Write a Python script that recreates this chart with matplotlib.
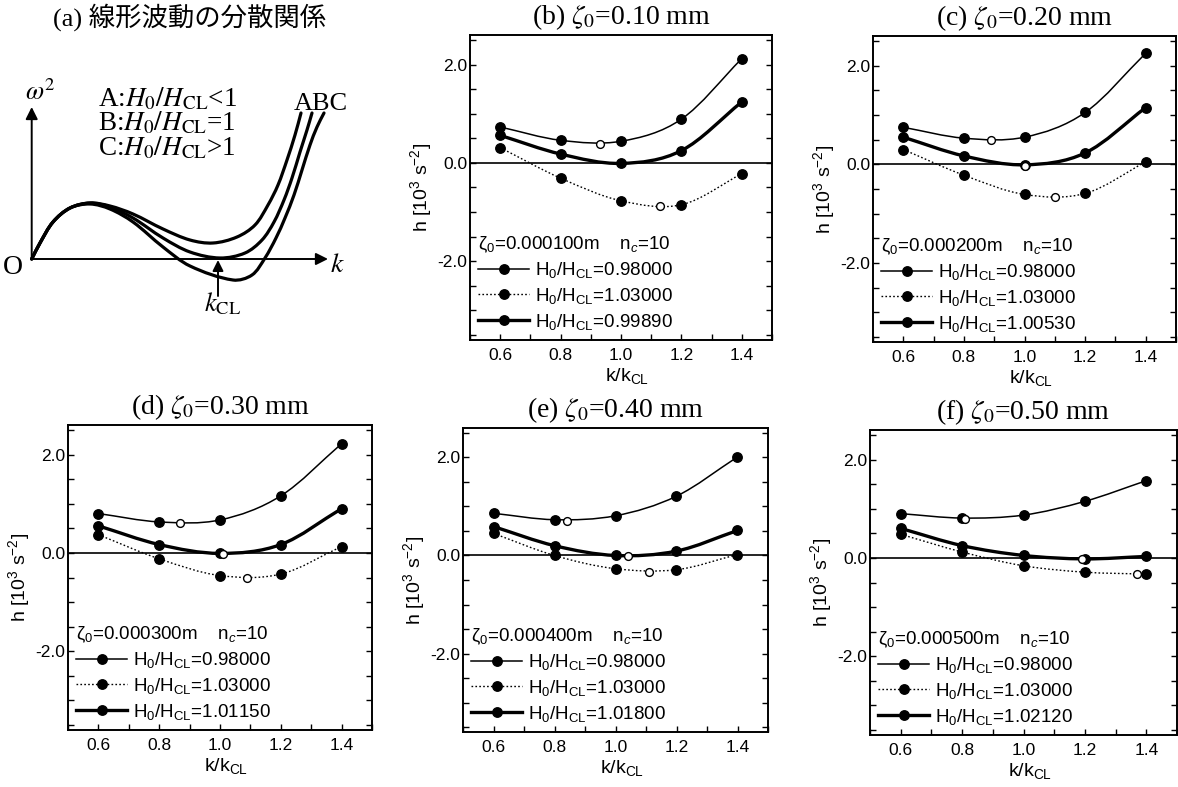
import numpy as np
import matplotlib
matplotlib.use("Agg")
import matplotlib.pyplot as plt
from matplotlib.path import Path
from matplotlib.patches import PathPatch
from matplotlib.lines import Line2D
from matplotlib.ticker import MultipleLocator, FormatStrFormatter

plt.rcParams['font.family'] = ['Liberation Sans', 'DejaVu Sans']
plt.rcParams['mathtext.fontset'] = 'custom'
plt.rcParams['mathtext.rm'] = 'Liberation Sans'
plt.rcParams['mathtext.it'] = 'Liberation Sans:italic'
plt.rcParams['mathtext.bf'] = 'Liberation Sans:bold'

# ---------------- data ----------------
k_ratio = [0.6, 0.8, 1.0, 1.2, 1.4]

panel_labels = ["(b)", "(c)", "(d)", "(e)", "(f)"]
zeta_mm = ["0.10", "0.20", "0.30", "0.40", "0.50"]
zeta_m = ["0.000100", "0.000200", "0.000300", "0.000400", "0.000500"]
n_c = 10
H_low = "0.98000"
H_high = "1.03000"
H_crit = ["0.99890", "1.00530", "1.01150", "1.01800", "1.02120"]

# h values [10^3 s^-2] at k/kCL = 0.6 ... 1.4
h_low_b = [0.73, 0.46, 0.44, 0.89, 2.12]
h_high_b = [0.31, -0.31, -0.77, -0.85, -0.22]
h_crit_b = [0.56, 0.18, -0.01, 0.25, 1.24]

h_low_c = [0.75, 0.53, 0.55, 1.05, 2.25]
h_high_c = [0.30, -0.22, -0.61, -0.59, 0.05]
h_crit_c = [0.55, 0.17, -0.01, 0.23, 1.15]

h_low_d = [0.80, 0.63, 0.67, 1.16, 2.22]
h_high_d = [0.37, -0.12, -0.46, -0.43, 0.13]
h_crit_d = [0.55, 0.17, -0.01, 0.17, 0.90]

h_low_e = [0.86, 0.73, 0.81, 1.21, 2.01]
h_high_e = [0.45, 0.00, -0.27, -0.29, 0.02]
h_crit_e = [0.59, 0.20, 0.00, 0.09, 0.51]

h_low_f = [0.90, 0.81, 0.87, 1.15, 1.57]
h_high_f = [0.48, 0.12, -0.16, -0.29, -0.33]
h_crit_f = [0.60, 0.25, 0.05, -0.02, 0.03]

# minima (open circles): k/kCL and h
min_k_b = [0.93, 1.13]
min_h_b = [0.39, -0.88]
min_k_c = [0.89, 1.00, 1.10]
min_h_c = [0.49, -0.03, -0.66]
min_k_d = [0.87, 1.01, 1.09]
min_h_d = [0.61, -0.03, -0.50]
min_k_e = [0.84, 1.04, 1.11]
min_h_e = [0.71, -0.01, -0.34]
min_k_f = [0.81, 1.19, 1.37]
min_h_f = [0.80, -0.02, -0.32]

h_low_all = [h_low_b, h_low_c, h_low_d, h_low_e, h_low_f]
h_high_all = [h_high_b, h_high_c, h_high_d, h_high_e, h_high_f]
h_crit_all = [h_crit_b, h_crit_c, h_crit_d, h_crit_e, h_crit_f]
min_k_all = [min_k_b, min_k_c, min_k_d, min_k_e, min_k_f]
min_h_all = [min_h_b, min_h_c, min_h_d, min_h_e, min_h_f]

# panel (a) schematic curves (pixel units)
curveA_x = [31.7, 40, 53, 70, 90, 110, 133, 163, 190, 213, 237, 255, 268, 278, 287, 295, 301]
curveA_y = [259, 243, 222, 208, 203, 206, 214, 229, 240, 243, 237, 225, 205, 185, 160, 135, 113]
curveB_x = [31.7, 40, 53, 70, 90, 110, 133, 163, 190, 220, 245, 262, 274, 284, 292, 300, 307, 312]
curveB_y = [259, 243, 222, 208, 203, 207, 218, 238, 252, 258, 253, 240, 222, 200, 178, 152, 130, 113]
curveC_x = [31.7, 40, 53, 70, 90, 110, 133, 163, 190, 233, 252, 265, 276, 285, 294, 302, 310, 317, 324]
curveC_y = [259, 243, 222, 208, 204, 209, 222, 247, 266, 280, 275, 258, 238, 218, 195, 170, 145, 127, 113]


def smooth_path(xs, ys, chord=False):
    p = np.column_stack([xs, ys]).astype(float)
    if chord:
        d = np.hypot(*np.diff(p, axis=0).T)
        t = np.concatenate([[0], np.cumsum(d)])
    else:
        t = p[:, 0].copy()
    n = len(p)
    m = np.zeros_like(p)
    m[1:-1] = (p[2:] - p[:-2]) / (t[2:] - t[:-2])[:, None]
    m[0] = (p[1] - p[0]) / (t[1] - t[0])
    m[-1] = (p[-1] - p[-2]) / (t[-1] - t[-2])
    verts = [p[0]]
    codes = [Path.MOVETO]
    for i in range(n - 1):
        h = t[i + 1] - t[i]
        verts += [p[i] + m[i] * h / 3, p[i + 1] - m[i + 1] * h / 3, p[i + 1]]
        codes += [Path.CURVE4] * 3
    return Path(verts, codes)


W, H = 1178, 787
fig = plt.figure(figsize=(W / 100, H / 100), dpi=100)


def add_ax(l, r, t, b):
    return fig.add_axes([l / W, 1 - b / H, (r - l) / W, (b - t) / H])


# ---------------- panel (a) ----------------
axa = add_ax(0, 380, 0, 330)
axa.set_xlim(0, 380)
axa.set_ylim(330, 0)
axa.axis('off')
serif_cjk = ['Liberation Serif', 'Noto Sans CJK JP']
axa.text(190, 17, "(a) 線形波動の分散関係", ha='center', va='center',
         fontsize=19, family=serif_cjk)
for cx, cy in [(curveA_x, curveA_y), (curveB_x, curveB_y), (curveC_x, curveC_y)]:
    axa.add_patch(PathPatch(smooth_path(cx, cy, chord=True), fill=False,
                            lw=2.3, color='k', capstyle='round'))
axa.annotate('', xy=(31.7, 107), xytext=(31.7, 259),
             arrowprops=dict(arrowstyle='-|>', lw=1.4, color='k', mutation_scale=18,
                             shrinkA=0, shrinkB=0))
axa.annotate('', xy=(328, 259), xytext=(31.7, 259),
             arrowprops=dict(arrowstyle='-|>', lw=1.4, color='k', mutation_scale=18,
                             shrinkA=0, shrinkB=0))
axa.annotate('', xy=(218, 260), xytext=(218, 296),
             arrowprops=dict(arrowstyle='-|>', lw=1.4, color='k', mutation_scale=16,
                             shrinkA=0, shrinkB=0))
axa.text(13, 268, "O", ha='center', va='center', fontsize=20, family='Liberation Serif')
axa.text(337, 265, "$k$", ha='center', va='center', fontsize=20, math_fontfamily='stix')
axa.text(223, 304, r"$k_{\mathrm{CL}}$", ha='center', va='center', fontsize=19,
         math_fontfamily='stix')
axa.text(25, 100, r"$\omega^2$", ha='left', va='baseline', fontsize=19, math_fontfamily='stix')
for i, s in enumerate([r"A:$H_0/H_{\mathrm{CL}}$<1", r"B:$H_0/H_{\mathrm{CL}}$=1",
                       r"C:$H_0/H_{\mathrm{CL}}$>1"]):
    axa.text(98, 106 + i * 24.5, s, ha='left', va='baseline', fontsize=19.5,
             family='Liberation Serif', math_fontfamily='stix')
axa.text(294, 110, "ABC", ha='left', va='baseline', fontsize=19, family='Liberation Serif')

# ---------------- panels (b)-(f) ----------------
boxes = [(470, 772, 35, 340), (873, 1176, 36, 342), (68, 372, 425, 730),
         (463, 768, 428, 732), (870, 1177, 430, 735)]

LW_THIN, LW_THICK, LW_DOT = 1.1, 2.4, 1.0
MS = 6.8
dot_style = (0, (1.2, 1.6))

for i in range(5):
    ax = add_ax(*boxes[i])
    ax.set_xlim(0.5, 1.5)
    ax.set_ylim(-3.6, 2.6)
    ax.axhline(0, color='k', lw=1.2, zorder=1)

    series = [(h_low_all[i], LW_THIN, '-'), (h_high_all[i], LW_DOT, dot_style),
              (h_crit_all[i], LW_THICK, '-')]
    for hv, lw, ls in series:
        ax.add_patch(PathPatch(smooth_path(k_ratio, hv), fill=False, lw=lw,
                               ls=ls, color='k', zorder=2))
        ax.plot(k_ratio, hv, 'o', color='k', ms=MS, zorder=3)
    ax.plot(min_k_all[i], min_h_all[i], 'o', mfc='white', mec='k', mew=1.0,
            ms=5.6, zorder=4)

    ax.xaxis.set_major_locator(MultipleLocator(0.2))
    ax.xaxis.set_minor_locator(MultipleLocator(0.1))
    ax.yaxis.set_major_locator(MultipleLocator(2.0))
    ax.yaxis.set_minor_locator(MultipleLocator(0.5))
    ax.xaxis.set_major_formatter(FormatStrFormatter('%.1f'))
    ax.yaxis.set_major_formatter(FormatStrFormatter('%.1f'))
    ax.tick_params(which='both', direction='in', left=True, right=True,
                   top=False, bottom=True, width=1.0, labelsize=12.5)
    ax.tick_params(which='major', length=4.5)
    ax.tick_params(which='minor', length=4)
    ax.tick_params(axis='y', pad=2)
    ax.tick_params(axis='x', pad=6)
    for sp in ax.spines.values():
        sp.set_linewidth(1.4)

    ax.set_title(panel_labels[i] + r" $\zeta_0$=" + zeta_mm[i] + " mm", fontsize=20,
                 family='Liberation Serif', math_fontfamily='stix', pad=8)
    ax.set_ylabel(r"h [10$^3$ s$^{-2}$]", fontsize=14)
    ax.yaxis.set_label_coords(-0.118, 0.5)
    ax.set_xlabel(r"k/k$_{\mathrm{CL}}$", fontsize=14)
    ax.xaxis.set_label_coords(0.52, -0.085)

    handles = [Line2D([], [], color='k', lw=LW_THIN, marker='o', ms=MS),
               Line2D([], [], color='k', lw=LW_DOT, ls=dot_style, marker='o', ms=MS),
               Line2D([], [], color='k', lw=LW_THICK, marker='o', ms=MS)]
    labels = [r"H$_0$/H$_{\mathrm{CL}}$=" + v for v in (H_low, H_high, H_crit[i])]
    leg = ax.legend(handles, labels, loc='lower left', bbox_to_anchor=(0.0, 0.0),
                    frameon=False, fontsize=13.5, handlelength=2.7, handletextpad=0.3,
                    labelspacing=0.3, borderaxespad=0.15, borderpad=0.3,
                    numpoints=1, alignment='left',
                    title="ζ$_0$=" + zeta_m[i] + "m    n$_c$=" + str(n_c),
                    title_fontsize=13.5)

fig.savefig("out.png", dpi=100)
